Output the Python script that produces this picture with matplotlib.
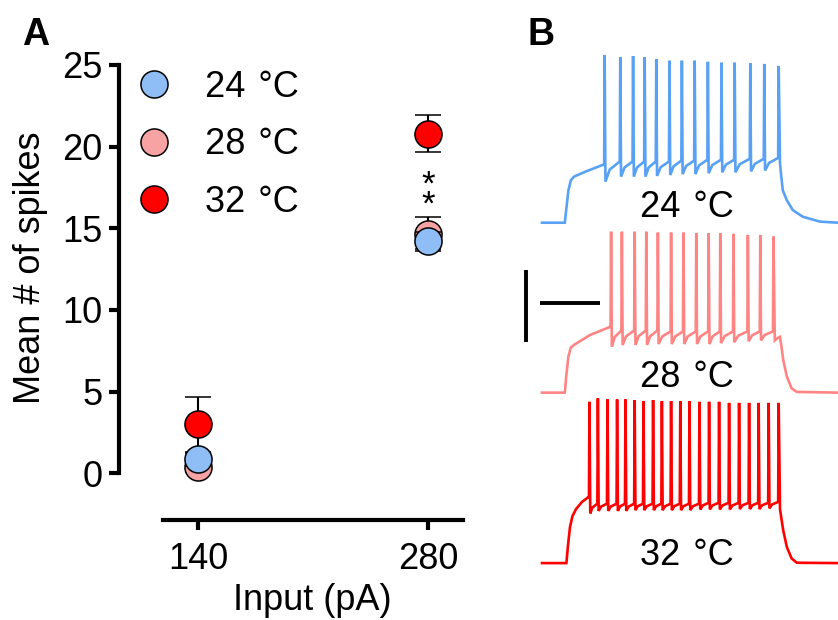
import matplotlib
matplotlib.use("Agg")
import matplotlib.pyplot as plt
from matplotlib.lines import Line2D

plt.rcParams['font.family'] = ['Liberation Sans', 'DejaVu Sans']

# ---------------- Panel A data ----------------
inputs = [140, 280]
temps = ["24 \u200a\u00b0C", "28 \u200a\u00b0C", "32 \u200a\u00b0C"]
mean_24 = [0.85, 14.25]
sem_24 = [0.4, 0.5]
mean_28 = [0.4, 14.65]
sem_28 = [0.3, 1.05]
mean_32 = [3.0, 20.8]
sem_32 = [1.7, 1.12]
yticks = [0, 5, 10, 15, 20, 25]
fill_24 = "#8fbdf5"
fill_28 = "#f7a3a3"
fill_32 = "#ff0000"

# ---------------- Panel B data (ms, mV) ----------------
blue_pre = [(0, -70), (57, -70), (61, -62), (66, -52), (72, -46.5), (80, -44.4), (110, -41.5), (152, -37.9)]
blue_spk_t = [156, 195, 227, 256, 285, 318, 349, 381, 414, 448, 481, 520, 555, 591]
blue_peak = [23.2, 21.9, 22.6, 21.9, 20.9, 20.0, 20.0, 20.0, 19.4, 18.9, 18.9, 18.6, 18.2, 17.1]
blue_thr = [-37.9, -36, -36, -36, -36, -36, -35.5, -35.5, -35, -35, -35, -34.5, -34.5, -34]
blue_trough = [-47.2, -44.4, -44.4, -44.4, -44, -43.5, -43, -43, -42.5, -42, -42, -41.5, -41]
blue_post = [(595, -37), (598, -44), (602, -52), (612, -57.5), (627, -63), (652, -66.7), (695, -69.4), (740, -70)]

pink_pre = [(0, -70), (57, -70), (61, -60), (66, -50), (72, -45), (80, -43.5), (120, -38), (170, -33.5)]
pink_spk_t = [172, 199, 231, 260, 289, 322, 353, 385, 416, 445, 478, 514, 545, 578]
pink_peak = [19.4, 19.4, 19.4, 19.4, 18.9, 18.9, 18.9, 18.6, 18.6, 18.6, 18.2, 17.6, 17.6, 16.7]
pink_thr = [-33.5, -35.5, -35.5, -35.5, -35.5, -36, -36, -36, -36, -36, -36, -36, -36, -36]
pink_trough = [-44.5, -43.5, -43.5, -43.5, -43, -43, -43, -43, -43, -42.5, -42, -41.5, -41]
pink_post = [(582, -41), (590, -39.5), (595, -39), (599, -45), (603, -51.8), (612, -61), (624, -67.6), (637, -69.6), (740, -70)]

red_pre = [(0, -70), (61, -70), (65, -60), (70, -50), (76, -44), (85, -40), (100, -36), (115, -33.5)]
red_spk_t = [118, 139, 163, 187, 208, 231, 253, 277, 299, 322, 345, 368, 393, 417, 442, 467, 492, 517, 541, 566, 591]
red_peak = [19.6, 21.5, 20.9, 20.9, 20.9, 20.6, 20.0, 20.6, 20.0, 20.0, 20.0, 20.0, 19.6, 19.6, 19.6, 19.0, 19.0, 19.0, 19.0, 19.0, 19.0]
red_thr = [-33.5, -37, -37, -37, -37, -37, -37, -37, -37, -37, -37, -37, -37, -36.5, -36.5, -36.5, -36.5, -36.5, -36.5, -36.5, -36]
red_trough = [-42.4, -41, -41, -41, -41, -40.6, -40.6, -40.6, -40.6, -40.6, -40.6, -40.6, -40.2, -40.2, -40.2, -40.2, -40, -40, -40, -39.6]
red_post = [(595, -40), (599, -46), (603, -51.7), (612, -61), (624, -67.4), (637, -69.8), (740, -70)]

trace_offsets = [0, -94.4, -189.1]
trace_colors = ["#59a1f5", "#ff8585", "#ff0000"]
trace_labels = ["24 \u200a\u00b0C", "28 \u200a\u00b0C", "32 \u200a\u00b0C"]
scalebar_mv = 40
scalebar_ms = 150


def build_trace(pre, spk_t, peak, thr, trough, post):
    t = [p[0] for p in pre]
    v = [p[1] for p in pre]
    n = len(spk_t)
    for i in range(n):
        ti = spk_t[i]
        t += [ti - 0.6, ti + 0.7]
        v += [thr[i], peak[i]]
        if i < n - 1:
            t.append(ti + 2.6)
            v.append(trough[i])
            t_next = spk_t[i + 1] - 0.6
            tm = ti + 2.6 + 0.3 * (t_next - (ti + 2.6))
            vm = trough[i] + 0.6 * (thr[i + 1] - trough[i])
            t.append(tm)
            v.append(vm)
    t += [p[0] for p in post]
    v += [p[1] for p in post]
    return t, v


fig = plt.figure(figsize=(8.38, 6.2), dpi=100)

# ---------------- Panel A ----------------
axA = fig.add_axes([119 / 838, 1 - 520 / 620, (463.3 - 119) / 838, (520 - 55) / 620])
ms = 19.5
ekw = dict(fmt='o', ms=ms, mec='black', mew=1.1, ecolor='black', elinewidth=1.5,
           capsize=9.7, capthick=1.5)
axA.errorbar(inputs, mean_32, yerr=sem_32, mfc=fill_32, zorder=2, **ekw)
axA.errorbar(inputs, mean_28, yerr=sem_28, mfc=fill_28, zorder=3, **ekw)
axA.errorbar(inputs, mean_24, yerr=sem_24, mfc=fill_24, zorder=4, **ekw)

axA.set_xlim(91.7, 301.3)
axA.set_ylim(-2.86, 25.61)
axA.set_xticks(inputs)
axA.set_yticks(yticks)
axA.tick_params(axis='both', labelsize=26, width=3, length=7, direction='out')
axA.tick_params(axis='y', pad=5)
axA.tick_params(axis='x', pad=8.5)
for s in ['top', 'right']:
    axA.spines[s].set_visible(False)
axA.spines['left'].set_linewidth(3)
axA.spines['bottom'].set_linewidth(3)
axA.spines['left'].set_bounds(0, 25)
axA.spines['bottom'].set_bounds(118.5, 301.3)
axA.set_xlabel("Input (pA)", fontsize=26)
axA.set_ylabel("Mean # of spikes", fontsize=26)
axA.xaxis.set_label_coords(0.5606, -0.135)
axA.yaxis.set_label_coords(-0.207, 0.543)

axA.text(inputs[1], 17.05, "*\n*", ha='center', va='center', fontsize=25, linespacing=0.5)

handles = [Line2D([], [], ls='none', marker='o', ms=ms, mec='black', mew=1.1, mfc=c)
           for c in [fill_24, fill_28, fill_32]]
leg = axA.legend(handles, temps, loc='upper left', bbox_to_anchor=(0.05, 0.968),
                 frameon=False, fontsize=26, handlelength=1.0, handletextpad=0.9,
                 labelspacing=0.62, borderpad=0, borderaxespad=0)

# ---------------- Panel B ----------------
axB = fig.add_axes([520 / 838, 1 - 600 / 620, 318 / 838, 560 / 620])
axB.set_xlim(-55, 740)
axB.set_ylim(-279.6, 31.5)
axB.axis('off')

traces = [
    (blue_pre, blue_spk_t, blue_peak, blue_thr, blue_trough, blue_post),
    (pink_pre, pink_spk_t, pink_peak, pink_thr, pink_trough, pink_post),
    (red_pre, red_spk_t, red_peak, red_thr, red_trough, red_post),
]
label_base = [-66.7, -161.1, -260.2]
for (pre, st, pk, th, tr, po), off, col, lab, lb in zip(traces, trace_offsets, trace_colors,
                                                     trace_labels, label_base):
    t, v = build_trace(pre, st, pk, th, tr, po)
    axB.plot(t, [x + off for x in v], color=col, lw=1.9, solid_joinstyle='miter')
    axB.text(362, lb, lab, ha='center', va='baseline', fontsize=26)

# scale bars
sb_x = -40.75
sb_top = -96.3
axB.plot([sb_x, sb_x], [sb_top, sb_top - scalebar_mv], color='black', lw=2.8, solid_capstyle='butt')
axB.plot([-5, -5 + scalebar_ms], [-114.6, -114.6], color='black', lw=2.8, solid_capstyle='butt')

# panel letters
fig.text(22 / 838, 1 - 45 / 620, "A", fontsize=27, fontweight='bold', ha='left', va='baseline')
fig.text(528 / 838, 1 - 45 / 620, "B", fontsize=27, fontweight='bold', ha='left', va='baseline')

fig.savefig("out.png", dpi=100)
